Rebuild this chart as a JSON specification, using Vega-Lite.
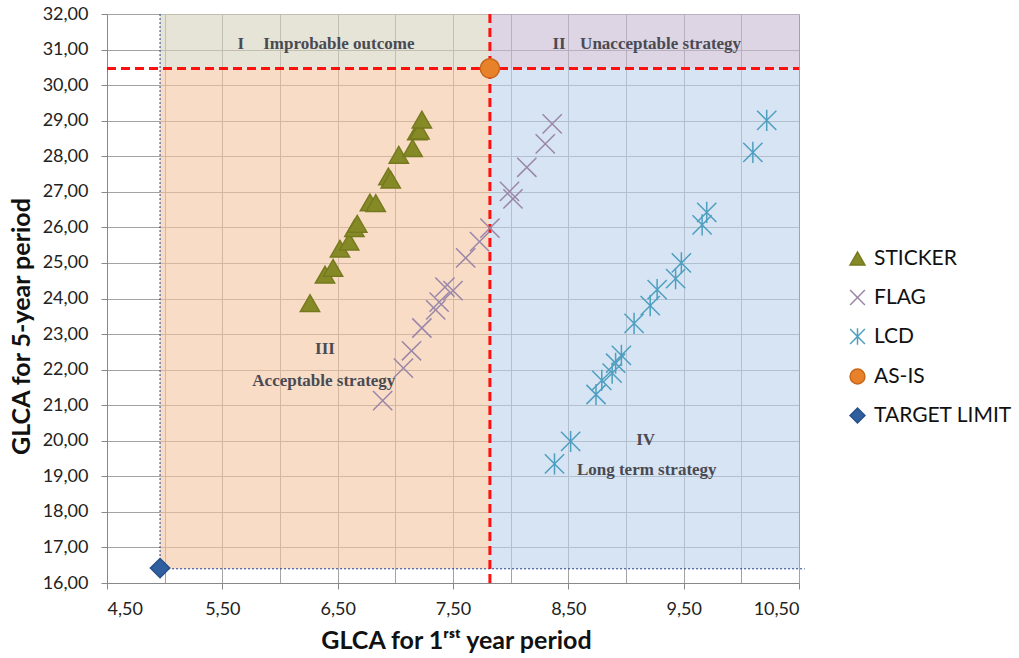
{
  "$schema": "https://vega.github.io/schema/vega-lite/v6.json",
  "width": 692,
  "height": 569,
  "autosize": {"type": "none"},
  "padding": {"left": 107, "top": 14, "right": 220, "bottom": 75},
  "background": "white",
  "config": {
    "view": {"stroke": null},
    "axis": {"labelFont": "Lato", "titleFont": "Lato", "labelFontSize": 18, "labelColor": "#222222", "titleColor": "#111111", "titleFontSize": 25, "titleFontWeight": "bold", "domainColor": "#888888", "tickColor": "#888888", "gridColor": "#a3a3a3", "gridOpacity": 1, "tickSize": 6, "labelOverlap": false},
    "legend": {"orient": "none", "legendX": 740, "legendY": 234, "padding": 0, "labelFont": "Lato", "labelFontSize": 21, "labelColor": "#111111", "symbolSize": 220, "rowPadding": 17, "labelOffset": 6, "symbolStrokeWidth": 1.5}
  },
  "datasets": {
    "regions": [
      {"region": "I", "x": 4.96, "x2": 7.82, "y": 30.47, "y2": 32},
      {"region": "II", "x": 7.82, "x2": 10.5, "y": 30.47, "y2": 32},
      {"region": "III", "x": 4.96, "x2": 7.82, "y": 16.4, "y2": 30.47},
      {"region": "IV", "x": 7.82, "x2": 10.5, "y": 16.4, "y2": 30.47}
    ],
    "redlines": [
      {"x": 7.82, "x2": 7.82, "y": 16, "y2": 32},
      {"x": 4.5, "x2": 10.5, "y": 30.47, "y2": 30.47}
    ],
    "bluelines": [
      {"x": 4.96, "x2": 4.96, "y": 16.42, "y2": 32},
      {"x": 4.96, "x2": 10.55, "y": 16.4, "y2": 16.4}
    ],
    "labels": [
      {"x": 5.66, "y": 31.16, "label": "I"},
      {"x": 6.51, "y": 31.16, "label": "Improbable outcome"},
      {"x": 8.42, "y": 31.16, "label": "II"},
      {"x": 9.3, "y": 31.16, "label": "Unacceptable strategy"},
      {"x": 6.39, "y": 22.58, "label": "III"},
      {"x": 6.38, "y": 21.67, "label": "Acceptable strategy"},
      {"x": 9.17, "y": 20.03, "label": "IV"},
      {"x": 9.18, "y": 19.19, "label": "Long term strategy"}
    ],
    "points": [
      {"series": "STICKER", "x": 6.26, "y": 23.87},
      {"series": "STICKER", "x": 6.39, "y": 24.67},
      {"series": "STICKER", "x": 6.46, "y": 24.86},
      {"series": "STICKER", "x": 6.52, "y": 25.4},
      {"series": "STICKER", "x": 6.6, "y": 25.6},
      {"series": "STICKER", "x": 6.645, "y": 25.98},
      {"series": "STICKER", "x": 6.67, "y": 26.1},
      {"series": "STICKER", "x": 6.78, "y": 26.7},
      {"series": "STICKER", "x": 6.83, "y": 26.68},
      {"series": "STICKER", "x": 6.94, "y": 27.43},
      {"series": "STICKER", "x": 6.96, "y": 27.34},
      {"series": "STICKER", "x": 7.03, "y": 28.04},
      {"series": "STICKER", "x": 7.15, "y": 28.23},
      {"series": "STICKER", "x": 7.19, "y": 28.7},
      {"series": "STICKER", "x": 7.21, "y": 28.72},
      {"series": "STICKER", "x": 7.23, "y": 29.03},
      {"series": "FLAG", "x": 6.89, "y": 21.13},
      {"series": "FLAG", "x": 7.07, "y": 22.04},
      {"series": "FLAG", "x": 7.14, "y": 22.53},
      {"series": "FLAG", "x": 7.23, "y": 23.17},
      {"series": "FLAG", "x": 7.35, "y": 23.68},
      {"series": "FLAG", "x": 7.38, "y": 23.9},
      {"series": "FLAG", "x": 7.43, "y": 24.32},
      {"series": "FLAG", "x": 7.5, "y": 24.22},
      {"series": "FLAG", "x": 7.61, "y": 25.14},
      {"series": "FLAG", "x": 7.73, "y": 25.6},
      {"series": "FLAG", "x": 7.82, "y": 25.98},
      {"series": "FLAG", "x": 7.99, "y": 27.01},
      {"series": "FLAG", "x": 8.02, "y": 26.8},
      {"series": "FLAG", "x": 8.14, "y": 27.69},
      {"series": "FLAG", "x": 8.3, "y": 28.35},
      {"series": "FLAG", "x": 8.36, "y": 28.91},
      {"series": "LCD", "x": 10.22, "y": 29.01},
      {"series": "LCD", "x": 10.1, "y": 28.11},
      {"series": "LCD", "x": 9.7, "y": 26.42},
      {"series": "LCD", "x": 9.66, "y": 26.07},
      {"series": "LCD", "x": 9.48, "y": 25.0},
      {"series": "LCD", "x": 9.43, "y": 24.56},
      {"series": "LCD", "x": 9.27, "y": 24.25},
      {"series": "LCD", "x": 9.21, "y": 23.8},
      {"series": "LCD", "x": 9.07, "y": 23.3},
      {"series": "LCD", "x": 8.96, "y": 22.4},
      {"series": "LCD", "x": 8.91, "y": 22.18},
      {"series": "LCD", "x": 8.88, "y": 21.9},
      {"series": "LCD", "x": 8.79, "y": 21.7},
      {"series": "LCD", "x": 8.74, "y": 21.3},
      {"series": "LCD", "x": 8.52, "y": 19.98},
      {"series": "LCD", "x": 8.38, "y": 19.35},
      {"series": "AS-IS", "x": 7.82, "y": 30.47},
      {"series": "TARGET LIMIT", "x": 4.96, "y": 16.42}
    ]
  },
  "encoding": {
    "x": {"field": "x", "type": "quantitative", "scale": {"domain": [4.5, 10.5], "nice": false, "zero": false},
      "axis": {"values": [4.5, 5, 5.5, 6, 6.5, 7, 7.5, 8, 8.5, 9, 9.5, 10, 10.5],
        "labelExpr": "round(datum.value*2)%2==1 ? replace(format(datum.value, '.2f'), '.', ',') : ''",
        "tickOpacity": {"condition": {"test": "round(datum.value*2)%2==1", "value": 1}, "value": 0},
        "labelOverlap": false,
        "labelPadding": 11, "title": "GLCA for 1ʳˢᵗ year period", "titleX": 349, "titleY": 65, "titleBaseline": "alphabetic"}},
    "y": {"field": "y", "type": "quantitative", "scale": {"domain": [16, 32], "nice": false, "zero": false},
      "axis": {"values": [16, 17, 18, 19, 20, 21, 22, 23, 24, 25, 26, 27, 28, 29, 30, 31, 32],
        "labelExpr": "replace(format(datum.value, '.2f'), '.', ',')",
        "labelOverlap": false, "labelFlush": false, "labelSeparation": 0,
        "labelPadding": 13, "title": "GLCA for 5-year period", "titleX": -78, "titleY": 312, "titleAngle": -90, "titleBaseline": "alphabetic"}}
  },
  "layer": [
    {
      "data": {"name": "regions"},
      "mark": {"type": "rect", "opacity": 0.6},
      "encoding": {
        "x2": {"field": "x2"},
        "y2": {"field": "y2"},
        "color": {"field": "region", "type": "nominal", "scale": {"domain": ["I", "II", "III", "IV"], "range": ["#d5d2bb", "#c6b9d0", "#f3c5a0", "#bcd2eb"]}, "legend": null}
      }
    },
    {
      "data": {"name": "bluelines"},
      "mark": {"type": "rule", "color": "#1f3f8f", "strokeWidth": 1, "strokeDash": [2, 2]},
      "encoding": {
        "x2": {"field": "x2"},
        "y2": {"field": "y2"}
      }
    },
    {
      "data": {"name": "redlines"},
      "mark": {"type": "rule", "color": "#ff1010", "strokeWidth": 3, "strokeDash": [9, 5]},
      "encoding": {
        "x2": {"field": "x2"},
        "y2": {"field": "y2"}
      }
    },
    {
      "data": {"name": "labels"},
      "mark": {"type": "text", "font": "Liberation Serif", "fontWeight": "bold", "fontSize": 17, "color": "#4a4a52", "align": "center", "baseline": "middle"},
      "encoding": {
        "text": {"field": "label"}
      }
    },
    {
      "data": {"name": "points"},
      "mark": {"type": "point", "filled": true, "strokeWidth": 1.5, "opacity": 1, "size": 370},
      "encoding": {
        "shape": {"field": "series", "type": "nominal", "title": null,
          "scale": {"domain": ["STICKER", "FLAG", "LCD", "AS-IS", "TARGET LIMIT"], "range": ["triangle-up", "M-1,-1L1,1M-1,1L1,-1", "M-1,-1L1,1M-1,1L1,-1M0,-1.1L0,1.1", "circle", "diamond"]}},
        "fill": {"field": "series", "type": "nominal", "title": null,
          "scale": {"domain": ["STICKER", "FLAG", "LCD", "AS-IS", "TARGET LIMIT"], "range": ["#868a26", "transparent", "transparent", "#e8822a", "#2f5f9f"]}},
        "stroke": {"field": "series", "type": "nominal", "title": null,
          "scale": {"domain": ["STICKER", "FLAG", "LCD", "AS-IS", "TARGET LIMIT"], "range": ["#767a1e", "#9a86a8", "#4e9fc0", "#c8661a", "#244f8a"]}}
      }
    }
  ]
}
